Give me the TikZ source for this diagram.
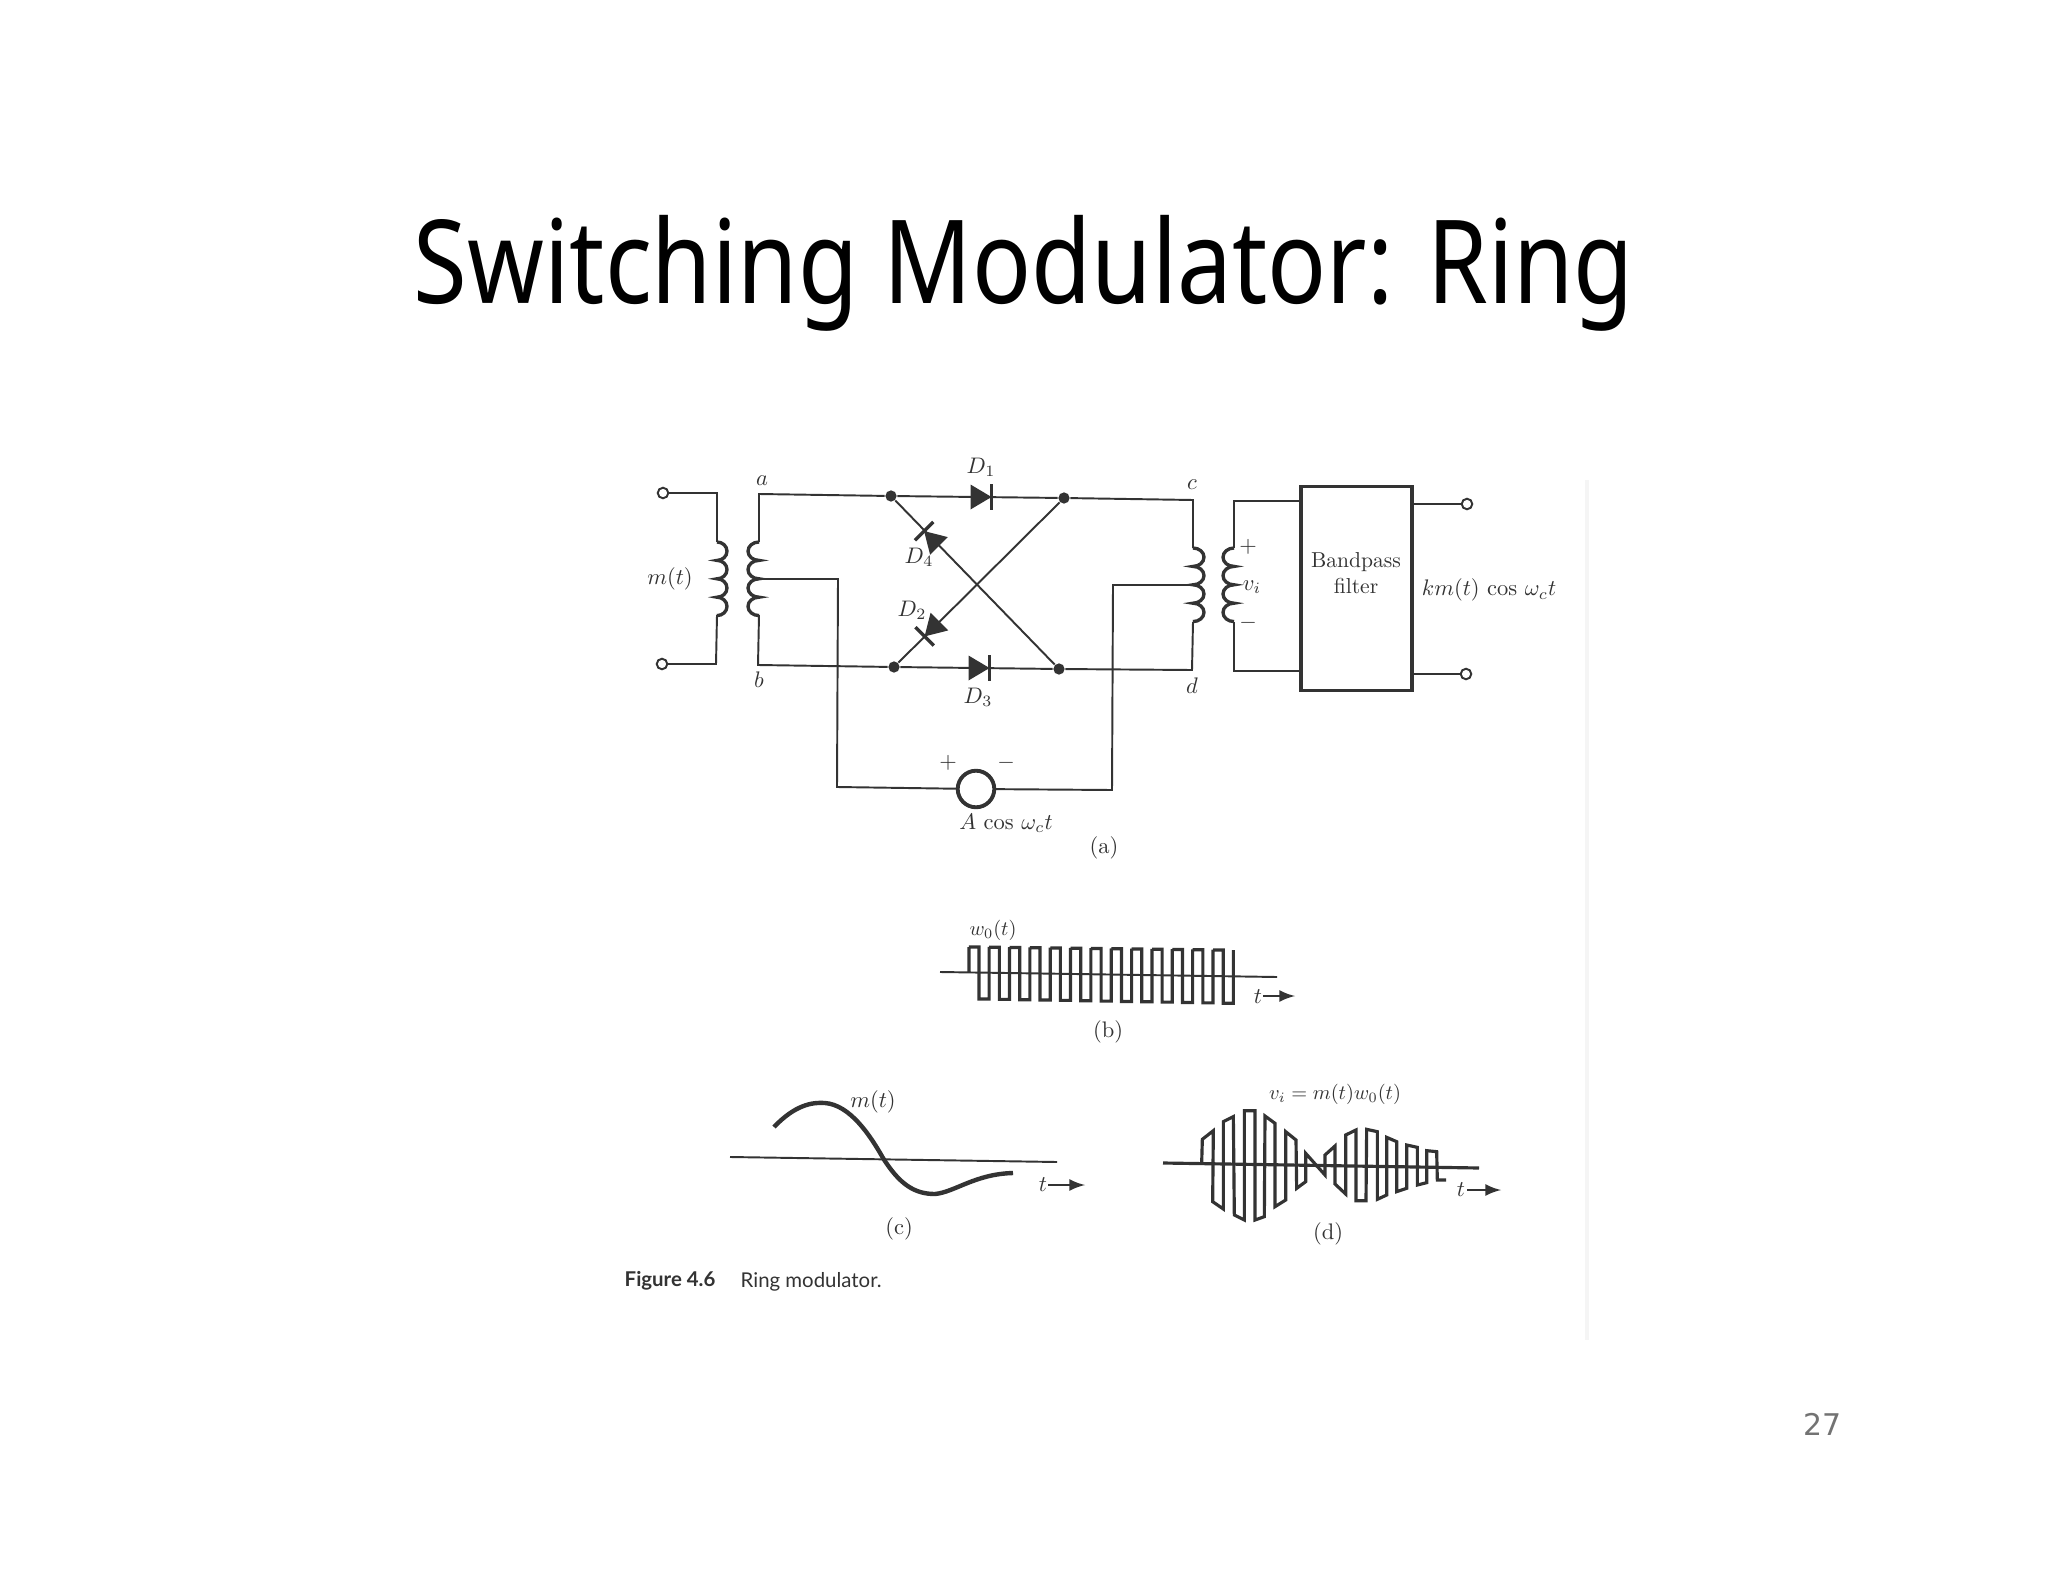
\documentclass[tikz,border=0pt]{standalone}
\usepackage{fontspec}
\newfontfamily\titlefont{Noto Sans}
\newfontfamily\capfont{Lato}
\newfontfamily\pagefont{DejaVu Sans}
\definecolor{ink}{HTML}{333333}
\tikzset{>=latex,
  wire/.style={ink,line width=0.55pt},
  coilpath/.style={ink,line width=0.95pt},
  wave/.style={ink,line width=0.9pt},
  lab/.style={ink,inner sep=0pt,scale=0.64},
  smalllab/.style={ink,inner sep=0pt,scale=0.58},
  dot/.style={circle,fill=ink,inner sep=0pt,minimum size=3.2pt},
  port/.style={circle,draw=ink,fill=white,line width=0.55pt,inner sep=0pt,minimum size=3pt}
}
% one winding of four turns from #1, bulging by #2
\newcommand{\winding}[2]{%
  \draw[coilpath] (#1) \foreach \k in {1,2,3,4} {arc[start angle=-90,end angle=90,x radius=#2,y radius=9.2]};
}
% diode at #1, pointing along the angle #2
\newcommand{\diode}[2]{%
  \begin{scope}[shift={(#1)},rotate=#2]
    \fill[ink] (-10.5,-12.5) -- (10.5,0) -- (-10.5,12.5) -- cycle;
    \draw[ink,line width=0.95pt] (10.5,-13) -- (10.5,13);
  \end{scope}
}
\begin{document}
\begin{tikzpicture}[x=0.01cm,y=-0.01cm]
  \useasboundingbox (0,0) rectangle (2048,1582);
  \fill[white] (0,0) rectangle (2048,1582);
  % Title
  \node[inner sep=0pt,anchor=base,xscale=0.843] (title) at (1024,304) {\titlefont\fontsize{33}{40}\selectfont Switching Modulator: Ring};
  % faint scan edge
  \draw[black!4,line width=1pt] (1587,480) -- (1587,1340);
  % Circuit points
  \coordinate (pa) at (717,493);
  \coordinate (pb) at (716,664);
  \coordinate (a) at (759,494);
  \coordinate (b) at (758,665);
  \coordinate (tapl) at (758,579);
  \coordinate (tapr) at (1193,585);
  \coordinate (c) at (1193,500);
  \coordinate (d) at (1192,670);
  \coordinate (sa) at (1234,501);
  \coordinate (sb) at (1234,671);
  \coordinate (bl) at (837,787);
  \coordinate (br) at (1112,790);
  \node[port] (in1) at (663,493) {};
  \node[port] (in2) at (662,664) {};
  \node[dot] (n1) at (891,496) {};
  \node[dot] (n2) at (1064,498) {};
  \node[dot] (n3) at (894,667) {};
  \node[dot] (n4) at (1059,669) {};
  \node[port] (out1) at (1467,504) {};
  \node[port] (out2) at (1466,674) {};
  \node[circle,draw=ink,line width=1.1pt,fill=white,inner sep=0pt,minimum size=10.4pt] (src) at (976,789) {};
  \node[draw=ink,line width=1.1pt,minimum width=31.5pt,minimum height=58pt,inner sep=0pt] (bpf) at (1356.5,588.5) {};
  % Wires
  \draw[wire] (in1) -- (pa) -- (717,542);
  \draw[wire] (717,615) -- (pb) -- (in2);
  \draw[wire] (n1) -- (a) -- (759,542);
  \draw[wire] (759,615) -- (b) -- (n3);
  \draw[wire] (n1) -- (n2) -- (c) -- (1193,548);
  \draw[wire] (n3) -- (n4) -- (d) -- (1193,622);
  \draw[wire] (n1) -- (n4);
  \draw[wire] (n2) -- (n3);
  \draw[wire] (tapl) -- (838,579) -- (bl) -- (src);
  \draw[wire] (tapr) -- (1113,585) -- (br) -- (src);
  \draw[wire] (1234,548) -- (sa) -- (sa-|bpf.west);
  \draw[wire] (1234,622) -- (sb) -- (sb-|bpf.west);
  \draw[wire] (out1-|bpf.east) -- (out1);
  \draw[wire] (out2-|bpf.east) -- (out2);
  % Coils
  \winding{717,542}{10}
  \winding{759,542}{-11}
  \winding{1193,548}{11}
  \winding{1234,548}{-11}
  % Diodes
  \diode{981,497}{0}
  \diode{979,668}{0}
  \diode{931.5,538.5}{135}
  \diode{932,629}{225}
  % Circuit labels
  \node[lab] (la) at (762,481) {$a$};
  \node[lab] (lb) at (759,680) {$b$};
  \node[lab] (lc) at (1192,485) {$c$};
  \node[lab] (ld) at (1192,686) {$d$};
  \node[lab] (ld1) at (981,467) {$D_1$};
  \node[lab] (ld4) at (919,557) {$D_4$};
  \node[lab] (ld2) at (912,610) {$D_2$};
  \node[lab] (ld3) at (978,697) {$D_3$};
  \node[lab] (lm) at (670,579) {$m(t)$};
  \node[lab] (lplus) at (948,763) {$+$};
  \node[lab] (lminus) at (1006,763) {$-$};
  \node[lab] (lsrc) at (1006,823) {$A\,\cos\,\omega_c t$};
  \node[lab] (lfa) at (1104,848) {(a)};
  \node[lab] (lvp) at (1248,547) {$+$};
  \node[lab] (lvi) at (1252,587) {$v_i$};
  \node[lab] (lvm) at (1248,623) {$-$};
  \node[lab,scale=0.96,align=center] (lbpf) at (1356,573) {Bandpass\\filter};
  \node[lab] (lout) at (1489,590) {$km(t)\,\cos\,\omega_c t$};
  % Switching wave
  \draw[wire] (940,972) -- (1277,977);
  \draw[wave] (969,972) -- (969,947)
    \foreach \k in {0,...,12} {
      -- (979+20.35*\k-10.15,947+0.25*\k) -- (979+20.35*\k,947+0.25*\k)
      -- (979+20.35*\k,999+0.35*\k) -- (989.15+20.35*\k,999+0.35*\k)
      -- (989.15+20.35*\k,947+0.25*\k)
    };
  \node[smalllab] (lw) at (993,930) {$w_0(t)$};
  \node[lab] (tb) at (1258,997) {$t$};
  \coordinate (tba) at (1263,996);
  \coordinate (tbb) at (1295,996);
  \draw[->,wire] (tba) -- (tbb);
  \node[lab] (lfb) at (1108,1032) {(b)};
  % Message
  \draw[wire] (730,1157) -- (1057,1162);
  \draw[wave,line width=1.25pt] (774,1127) .. controls (795,1105) and (812,1102) .. (825,1103)
    .. controls (850,1105) and (870,1135) .. (883,1158)
    .. controls (900,1185) and (915,1194) .. (935,1194)
    .. controls (955,1192) and (975,1174) .. (1013,1173);
  \node[lab] (lmm) at (873,1102) {$m(t)$};
  \node[lab] (tc) at (1043,1185) {$t$};
  \coordinate (tca) at (1048,1185);
  \coordinate (tcb) at (1085,1185);
  \draw[->,wire] (tca) -- (tcb);
  \node[lab] (lfc) at (899,1229) {(c)};
  % Product
  \draw[wave] (1163,1163) -- (1479,1168);
  \begin{scope}[shift={(1140,1060)},scale=1/3]
    \draw[wave] (185,310) -- (187,238) -- (220,212) -- (218,425) -- (250,447) -- (250,185)
      -- (280,170) -- (283,465) -- (313,480) -- (313,152) -- (345,152) -- (345,480)
      -- (373,470) -- (375,168) -- (405,190) -- (405,440) -- (437,420) -- (437,215)
      -- (468,240) -- (470,385) -- (497,365) -- (497,280) -- (555,345) -- (555,285)
      -- (585,258) -- (585,372) -- (617,402) -- (617,225) -- (648,210) -- (648,422)
      -- (678,422) -- (680,208) -- (712,215) -- (712,418) -- (740,405) -- (740,232)
      -- (770,245) -- (770,395) -- (800,385) -- (800,255) -- (832,262) -- (832,375)
      -- (860,368) -- (860,272) -- (890,275) -- (892,360) -- (918,360);
  \end{scope}
  \node[smalllab] (lvw) at (1335,1094) {$v_i=m(t)w_0(t)$};
  \node[lab] (td) at (1461,1190) {$t$};
  \coordinate (tda) at (1467,1190);
  \coordinate (tdb) at (1501,1190);
  \draw[->,wire] (tda) -- (tdb);
  \node[lab] (lfd) at (1328,1234) {(d)};
  % Caption
  \node[ink,anchor=west,inner sep=0pt] (figno) at (624,1281) {\capfont\fontsize{5.8}{7}\selectfont\bfseries Figure 4.6};
  \node[ink,anchor=west,inner sep=0pt] (figcap) at (740,1282) {\capfont\fontsize{5.8}{7}\selectfont Ring modulator.};
  % Page number
  \node[black!55,inner sep=0pt] (pageno) at (1822,1424) {\pagefont\fontsize{8.5}{10}\selectfont 27};
\end{tikzpicture}
\end{document}
